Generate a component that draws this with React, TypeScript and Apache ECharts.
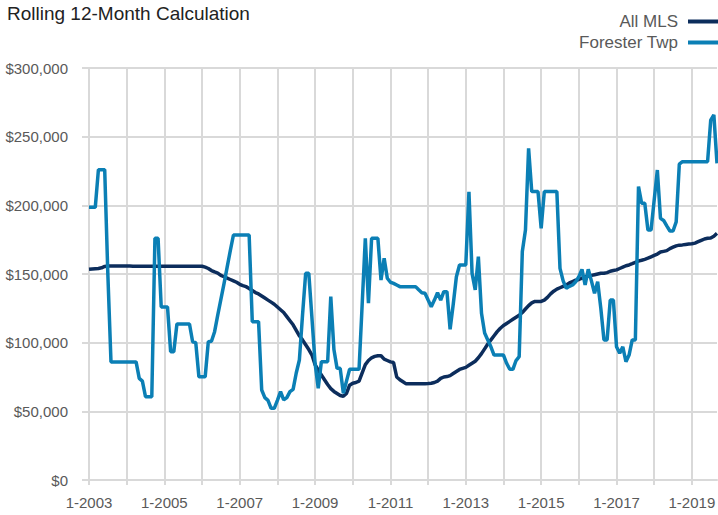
import React, { useEffect, useRef } from "react";
import * as echarts from "echarts";

const START_YEAR = 2003;
const MONTH_COUNT = 201; // Jan 2003 .. Sep 2019

const categories: string[] = [];
for (let i = 0; i < MONTH_COUNT; i++) {
  const y = START_YEAR + Math.floor(i / 12);
  const m = (i % 12) + 1;
  categories.push(`${m}-${y}`);
}

// values in $ thousands
const allMls: number[] = [
  // 2003
  153.4, 153.6, 153.8, 154, 154.5, 155.5, 155.8, 155.8, 155.8, 155.8, 155.8, 155.8,
  // 2004
  155.8, 155.8, 155.7, 155.7, 155.7, 155.6, 155.6, 155.6, 155.6, 155.6, 155.6, 155.6,
  // 2005
  155.6, 155.6, 155.6, 155.6, 155.6, 155.6, 155.6, 155.6, 155.6, 155.6, 155.6, 155.6,
  // 2006
  155.6, 155, 154, 152.5, 151.5, 150.7, 149, 148, 147, 146, 145, 144,
  // 2007
  142.5, 141.5, 140.8, 139.5, 138, 136.5, 135.5, 134, 132.5, 131, 129.5, 128,
  // 2008
  126, 124, 122, 119, 116, 113, 109, 105, 102, 98.5, 95, 91,
  // 2009
  84, 80, 76.5, 73, 69.5, 66.5, 64.5, 63, 61.5, 61, 63, 69,
  // 2010
  70.5, 71, 72, 78, 84, 87, 89, 90, 90.5, 90.5, 88, 87,
  // 2011
  86, 85.5, 75, 73, 71.5, 70, 70, 70, 70, 70, 70, 70,
  // 2012
  70.2, 70.5, 71, 72, 74, 75, 75.3, 76, 77.5, 79, 80.5, 81.3,
  // 2013
  82, 83.5, 85, 86.5, 89, 92, 95.5, 99, 102, 105, 108, 110.5,
  // 2014
  112.5, 114, 115.5, 117, 118.5, 120, 122, 124.5, 127, 129, 130, 130,
  // 2015
  130, 131, 133, 135.5, 137.5, 139, 140, 141, 142, 143.5, 144.5, 145.5,
  // 2016
  146, 147, 148, 148.5, 149, 149.5, 150, 150.5, 150.5, 151, 152, 152.5,
  // 2017
  153, 154, 155, 156, 156.6, 157.5, 158.5, 159.5, 160, 160.7, 161.5, 162.5,
  // 2018
  163.5, 164.5, 166, 166.5, 167, 168.5, 169.5, 170.5, 171, 171.2, 171.5, 171.8,
  // 2019
  172, 172.5, 173.5, 174.5, 175.5, 176, 176.2, 177.5, 179.6,
];

const foresterTwp: number[] = [
  // 2003
  198.6, 198.6, 198.6, 226, 226, 226, 150, 86, 86, 86, 86, 86,
  // 2004
  86, 86, 86, 86, 74, 72, 60.6, 60.6, 60.6, 176, 176, 126,
  // 2005
  126, 126, 93.4, 93.4, 113.6, 113.6, 113.6, 113.6, 113.6, 100.7, 100, 75.2,
  // 2006
  75.2, 75.2, 100.7, 101, 108, 120, 131.5, 143, 155, 167, 178.4, 178.4,
  // 2007
  178.4, 178.4, 178.4, 178.4, 115.3, 115.3, 115.3, 65.5, 60, 58, 52.2, 52.2,
  // 2008
  58, 64.3, 58.3, 60, 64.3, 66, 77.9, 87.4, 120, 150.5, 150.5, 118,
  // 2009
  85, 66.8, 86.1, 86.1, 86.1, 133.5, 95, 81.3, 81.3, 63.1, 72, 80.6,
  // 2010
  80.6, 80.6, 80.6, 128, 176, 128.7, 176, 176, 176, 145.6, 161.4, 146.9,
  // 2011
  144, 143.2, 142, 140.8, 140.8, 140.8, 140.8, 140.8, 140.8, 138.5, 136.4, 136,
  // 2012
  131, 126.2, 131, 136.4, 131, 137.1, 137.1, 109.7, 128, 148, 156.6, 156.6,
  // 2013
  156.6, 209.9, 150.5, 138.4, 162.6, 121.4, 107, 102, 97, 91, 91, 91,
  // 2014
  91, 85, 80.6, 80.6, 87, 89.8, 166.3, 182, 241.5, 210, 210, 210,
  // 2015
  183.3, 210, 210, 210, 210, 210, 154.1, 145, 139.6, 141, 142, 144.4,
  // 2016
  148, 153.4, 142, 153.4, 145, 136, 144.4, 125, 102, 102, 131, 131,
  // 2017
  97, 92.3, 97, 86.1, 91, 102, 102, 213.7, 201.5, 201.5, 182, 182,
  // 2018
  204, 225.7, 190.5, 189, 185, 181.3, 181.3, 188, 230, 231.8, 231.8, 231.8,
  // 2019
  231.8, 231.8, 231.8, 231.8, 231.8, 231.8, 262, 265.8, 230.6,
];

const yTicks = { min: 0, max: 300000, interval: 50000 };
const seriesNames = ["All MLS", "Forester Twp"];

const FONT = "'Liberation Sans', Arial, sans-serif";
const GRID_COLOR = "#d9d9d9";
const TEXT_COLOR = "#595959";

export default function App() {
  const ref = useRef<HTMLDivElement>(null);

  useEffect(() => {
    if (!ref.current) return;
    const chart = echarts.init(ref.current, undefined, { renderer: "svg" });
    chart.setOption({
      animation: false,
      textStyle: { fontFamily: FONT },
      title: {
        text: "Rolling 12-Month Calculation",
        left: 2,
        top: -1,
        textStyle: { fontFamily: FONT, fontSize: 19, fontWeight: "normal", color: "#222" },
      },
      legend: {
        orient: "vertical",
        right: 0,
        top: 13,
        padding: 0,
        align: "right",
        icon: "rect",
        itemWidth: 30,
        itemHeight: 4,
        itemGap: 4,
        data: seriesNames,
        textStyle: { fontFamily: FONT, fontSize: 17, color: TEXT_COLOR, padding: [0, 5, 0, 0] },
      },
      grid: {
        left: 89,
        right: 1,
        top: 68,
        bottom: 35,
        containLabel: false,
        outerBoundsMode: "none",
      },
      xAxis: {
        type: "category",
        data: categories,
        boundaryGap: false,
        axisLine: { lineStyle: { color: GRID_COLOR, width: 2 } },
        axisTick: {
          show: true,
          length: 5,
          interval: (i: number) => i % 12 === 0,
          lineStyle: { color: GRID_COLOR, width: 2 },
        },
        axisLabel: {
          interval: (i: number) => i % 24 === 0,
          color: TEXT_COLOR,
          fontFamily: FONT,
          fontSize: 15,
          margin: 15,
        },
        splitLine: {
          show: true,
          interval: (i: number) => i % 12 === 0,
          lineStyle: { color: GRID_COLOR, width: 2 },
        },
      },
      yAxis: {
        type: "value",
        min: yTicks.min,
        max: yTicks.max,
        interval: yTicks.interval,
        axisLine: { show: false },
        axisTick: { show: true, length: 7, lineStyle: { color: GRID_COLOR, width: 2 } },
        axisLabel: {
          color: TEXT_COLOR,
          fontFamily: FONT,
          fontSize: 15,
          margin: 21,
          formatter: (v: number) => "$" + v.toLocaleString("en-US"),
        },
        splitLine: { show: true, lineStyle: { color: GRID_COLOR, width: 2 } },
      },
      series: [
        {
          name: seriesNames[0],
          type: "line",
          data: allMls.map((v) => v * 1000),
          showSymbol: false,
          symbol: "none",
          lineStyle: { color: "#0c2d5c", width: 3.5 },
          itemStyle: { color: "#0c2d5c" },
          z: 2,
        },
        {
          name: seriesNames[1],
          type: "line",
          data: foresterTwp.map((v) => v * 1000),
          showSymbol: false,
          symbol: "none",
          lineStyle: { color: "#0b7fb5", width: 3.5 },
          itemStyle: { color: "#0b7fb5" },
          z: 3,
        },
      ],
    });
    return () => chart.dispose();
  }, []);

  return (
    <div
      ref={ref}
      style={{ position: "absolute", left: 0, top: 0, width: 718, height: 515, background: "#fff" }}
    />
  );
}
